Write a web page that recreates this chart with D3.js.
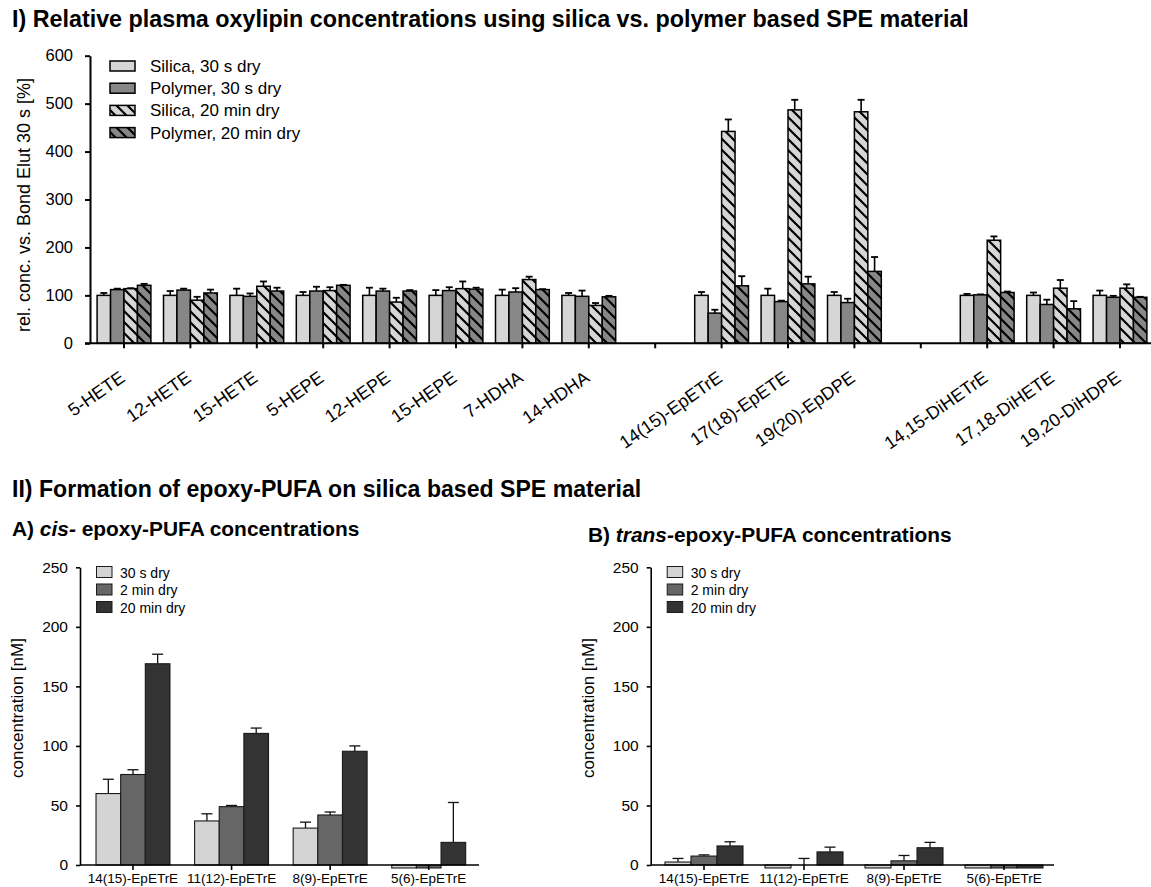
<!DOCTYPE html>
<html>
<head>
<meta charset="utf-8">
<script src="https://cdn.jsdelivr.net/npm/d3@7"></script>
<style>
  html, body { margin: 0; padding: 0; background: #fff; }
  svg { display: block; font-family: "Liberation Sans", Arial, sans-serif; }
</style>
</head>
<body>
<svg id="fig" width="1151" height="887"></svg>
<script>
// ---- Panel I: relative plasma oxylipin concentrations (gaps separate analyte classes) ----
const oxylipins = ["5-HETE", "12-HETE", "15-HETE", "5-HEPE", "12-HEPE", "15-HEPE", "7-HDHA", "14-HDHA",
  null, "14(15)-EpETrE", "17(18)-EpETE", "19(20)-EpDPE",
  null, "14,15-DiHETrE", "17,18-DiHETE", "19,20-DiHDPE"];
const silica30 =     [100, 100, 100, 100, 100, 100, 100, 100, null, 100, 100, 100, null, 100, 100, 100];
const silica30Err =  [5, 9, 14, 7, 16, 11, 12, 5, null, 7, 14, 7, null, 3, 6, 10];
const polymer30 =    [112, 111, 98, 109, 109, 110, 107, 98, null, 63, 87, 85, null, 101, 81, 96];
const polymer30Err = [2, 3, 6, 9, 5, 7, 8, 12, null, 7, 2, 8, null, 1, 10, 3];
const silica20 =     [114, 90, 119, 110, 86, 114, 133, 79, null, 442, 487, 483, null, 215, 115, 115];
const silica20Err =  [1, 7, 10, 7, 9, 15, 6, 5, null, 25, 21, 25, null, 8, 17, 8];
const polymer20 =    [121, 105, 109, 121, 109, 113, 112, 97, null, 120, 124, 150, null, 106, 72, 96];
const polymer20Err = [3, 7, 7, 1, 2, 3, 1, 2, null, 20, 15, 30, null, 2, 16, 1];
const topTicks = [0, 100, 200, 300, 400, 500, 600];
const topSeriesNames = ["Silica, 30 s dry", "Polymer, 30 s dry", "Silica, 20 min dry", "Polymer, 20 min dry"];

// ---- Panel II: epoxy-PUFA formation on silica ----
const epoxides = ["14(15)-EpETrE", "11(12)-EpETrE", "8(9)-EpETrE", "5(6)-EpETrE"];
const cisDry30s =      [60, 37, 31, -2.5];
const cisDry30sErr =   [12, 6, 5, null];
const cisDry2min =     [76, 49, 42, -2.5];
const cisDry2minErr =  [4, 1, 2.5, null];
const cisDry20min =    [169, 110.5, 95.5, 19];
const cisDry20minErr = [8, 4.5, 4.5, 33.5];
const transDry30s =      [2.5, -2.5, -2.5, -2.5];
const transDry30sErr =   [3, null, null, null];
const transDry2min =     [7.5, 0, 3.5, -2.5];
const transDry2minErr =  [1, 5.5, 4.5, null];
const transDry20min =    [16, 11, 14.5, -2.5];
const transDry20minErr = [3.5, 4, 4.5, null];
const concTicks = [0, 50, 100, 150, 200, 250];
const dryNames = ["30 s dry", "2 min dry", "20 min dry"];

const svg = d3.select("#fig");
const defs = svg.append("defs");

// diagonal hatch patterns for the 20 min dry series
function hatch(id, bg) {
  const p = defs.append("pattern").attr("id", id)
    .attr("patternUnits", "userSpaceOnUse").attr("width", 11).attr("height", 11);
  p.append("rect").attr("width", 11).attr("height", 11).attr("fill", bg);
  p.append("path").attr("d", "M-2,-2 L13,13 M-2,9 L2,13 M9,-2 L13,2")
    .attr("stroke", "#000").attr("stroke-width", 2.2);
}
hatch("hatchLight", "#d6d6d6");
hatch("hatchDark", "#878787");

const topFills = ["#d6d6d6", "#878787", "url(#hatchLight)", "url(#hatchDark)"];
const bottomFills = ["#d4d4d4", "#666666", "#333333"];

// ---------- titles ----------
svg.append("text").attr("x", 12).attr("y", 27)
  .attr("font-size", 23.3).attr("font-weight", "bold")
  .text("I) Relative plasma oxylipin concentrations using silica vs. polymer based SPE material");
svg.append("text").attr("x", 12).attr("y", 497)
  .attr("font-size", 23.1).attr("font-weight", "bold")
  .text("II) Formation of epoxy-PUFA on silica based SPE material");
const tA = svg.append("text").attr("x", 12).attr("y", 536).attr("font-size", 20.9).attr("font-weight", "bold");
tA.append("tspan").text("A) ");
tA.append("tspan").attr("font-style", "italic").text("cis-");
tA.append("tspan").text(" epoxy-PUFA concentrations");
const tB = svg.append("text").attr("x", 588).attr("y", 542).attr("font-size", 20.9).attr("font-weight", "bold");
tB.append("tspan").text("B) ");
tB.append("tspan").attr("font-style", "italic").text("trans-");
tB.append("tspan").text("epoxy-PUFA concentrations");

// ---------- Panel I chart ----------
{
  const x0 = d3.scaleBand().domain(d3.range(oxylipins.length))
    .range([90.8, 1153.2]).paddingInner(0.19).paddingOuter(0.095);
  const x1 = d3.scaleBand().domain(d3.range(4)).range([0, x0.bandwidth()]);
  const y = d3.scaleLinear().domain([0, 600]).range([343.3, 55.7]);
  const g = svg.append("g");

  const series = [
    [silica30, silica30Err], [polymer30, polymer30Err],
    [silica20, silica20Err], [polymer20, polymer20Err]
  ];
  oxylipins.forEach((name, i) => {
    if (name === null) return;
    series.forEach(([vals, errs], s) => {
      const v = vals[i], e = errs[i];
      const bx = x0(i) + x1(s), bw = x1.bandwidth();
      const cx = bx + bw / 2;
      if (e) {
        g.append("line").attr("x1", cx).attr("x2", cx).attr("y1", y(v)).attr("y2", y(v + e))
          .attr("stroke", "#000").attr("stroke-width", 1.6);
        g.append("line").attr("x1", cx - 3.5).attr("x2", cx + 3.5).attr("y1", y(v + e)).attr("y2", y(v + e))
          .attr("stroke", "#000").attr("stroke-width", 1.8);
      }
      g.append("rect").attr("x", bx).attr("width", bw)
        .attr("y", y(v)).attr("height", y(0) - y(v))
        .attr("fill", topFills[s]).attr("stroke", "#000").attr("stroke-width", 1.5);
    });
  });

  const yAxis = g.append("g").attr("transform", "translate(90,0)")
    .call(d3.axisLeft(y).tickValues(topTicks).tickSize(5).tickPadding(12).tickSizeOuter(0));
  yAxis.select(".domain").attr("stroke-width", 2);
  yAxis.selectAll(".tick line").attr("stroke-width", 2);
  yAxis.selectAll(".tick text").attr("font-size", 16.5).attr("font-family", "Liberation Sans, Arial, sans-serif").attr("fill", "#000");

  const xAxis = g.append("g").attr("transform", "translate(0,343.3)")
    .call(d3.axisBottom(x0).tickSize(5).tickSizeOuter(0).tickFormat(() => ""));
  xAxis.select(".domain").attr("d", "M85,0H1151").attr("stroke-width", 2);
  xAxis.selectAll(".tick line").attr("stroke-width", 2);

  // rotated analyte labels
  g.selectAll("text.xl").data(oxylipins.map((n, i) => ({ n, i })).filter(d => d.n !== null))
    .join("text").attr("class", "xl")
    .attr("transform", d => `translate(${x0(d.i) + x0.bandwidth() / 2 + 2},${343.3 + 37}) rotate(-35)`)
    .attr("text-anchor", "end").attr("font-size", 18).text(d => d.n);

  // y-axis title
  g.append("text").attr("transform", "translate(30,205) rotate(-90)")
    .attr("text-anchor", "middle").attr("font-size", 18)
    .text("rel. conc. vs. Bond Elut 30 s [%]");

  // legend
  const lg = g.append("g");
  topSeriesNames.forEach((name, s) => {
    const cy = 66 + s * 22.2;
    lg.append("rect").attr("x", 110).attr("y", cy - 5).attr("width", 25).attr("height", 10)
      .attr("fill", topFills[s]).attr("stroke", "#000").attr("stroke-width", 1.5);
    lg.append("text").attr("x", 150).attr("y", cy + 6).attr("font-size", 17).text(name);
  });
}

// ---------- Panel II charts ----------
function concChart(cfg) {
  const x0 = d3.scaleBand().domain(epoxides).range(cfg.xr).paddingInner(cfg.pad).paddingOuter(cfg.pad / 2);
  const x1 = d3.scaleBand().domain(d3.range(3)).range([0, x0.bandwidth()]);
  const y = d3.scaleLinear().domain([0, 250]).range([865, 567.3]);
  const g = svg.append("g");

  epoxides.forEach((name, i) => {
    cfg.series.forEach(([vals, errs], s) => {
      const v = vals[i], e = errs[i];
      const bx = x0(name) + x1(s), bw = x1.bandwidth();
      const cx = bx + bw / 2;
      if (e) {
        g.append("line").attr("x1", cx).attr("x2", cx).attr("y1", y(v)).attr("y2", y(v + e))
          .attr("stroke", "#111").attr("stroke-width", 1.3);
        g.append("line").attr("x1", cx - 5.5).attr("x2", cx + 5.5).attr("y1", y(v + e)).attr("y2", y(v + e))
          .attr("stroke", "#111").attr("stroke-width", 1.3);
      }
      g.append("rect").attr("x", bx).attr("width", bw)
        .attr("y", y(Math.max(0, v))).attr("height", Math.abs(y(0) - y(v)))
        .attr("fill", bottomFills[s]).attr("stroke", "#1a1a1a").attr("stroke-width", 1.1);
    });
  });

  const yAxis = g.append("g").attr("transform", `translate(${cfg.ax},0)`)
    .call(d3.axisLeft(y).tickValues(concTicks).tickSize(4).tickPadding(8).tickSizeOuter(0));
  yAxis.select(".domain").attr("stroke-width", 1.6);
  yAxis.selectAll(".tick line").attr("stroke-width", 1.6);
  yAxis.selectAll(".tick text").attr("font-size", 15.5).attr("font-family", "Liberation Sans, Arial, sans-serif").attr("fill", "#000");

  const xAxis = g.append("g").attr("transform", "translate(0,865)")
    .call(d3.axisBottom(x0).tickSize(5).tickSizeOuter(0));
  xAxis.select(".domain").attr("d", `M${cfg.ax},0H${cfg.xend}`).attr("stroke-width", 1.6);
  xAxis.selectAll(".tick line").attr("stroke-width", 1.6);
  xAxis.selectAll(".tick text").attr("font-size", 13.5).attr("font-family", "Liberation Sans, Arial, sans-serif")
    .attr("fill", "#000").attr("y", 18).attr("dy", 0);

  g.append("text").attr("transform", `translate(${cfg.ax - 57},708) rotate(-90)`)
    .attr("text-anchor", "middle").attr("font-size", 17).text("concentration [nM]");

  dryNames.forEach((name, s) => {
    const cy = 572 + s * 17.5;
    g.append("rect").attr("x", cfg.ax + 16.5).attr("y", cy - 5.5).attr("width", 15.5).attr("height", 11)
      .attr("fill", bottomFills[s]).attr("stroke", "#1a1a1a").attr("stroke-width", 1);
    g.append("text").attr("x", cfg.ax + 40).attr("y", cy + 5.5).attr("font-size", 14).text(name);
  });
}

concChart({
  ax: 80, xr: [83.7, 478], xend: 479, pad: 0.25,
  series: [[cisDry30s, cisDry30sErr], [cisDry2min, cisDry2minErr], [cisDry20min, cisDry20minErr]]
});
concChart({
  ax: 650.7, xr: [654, 1054], xend: 1054, pad: 0.22,
  series: [[transDry30s, transDry30sErr], [transDry2min, transDry2minErr], [transDry20min, transDry20minErr]]
});
</script>
</body>
</html>
